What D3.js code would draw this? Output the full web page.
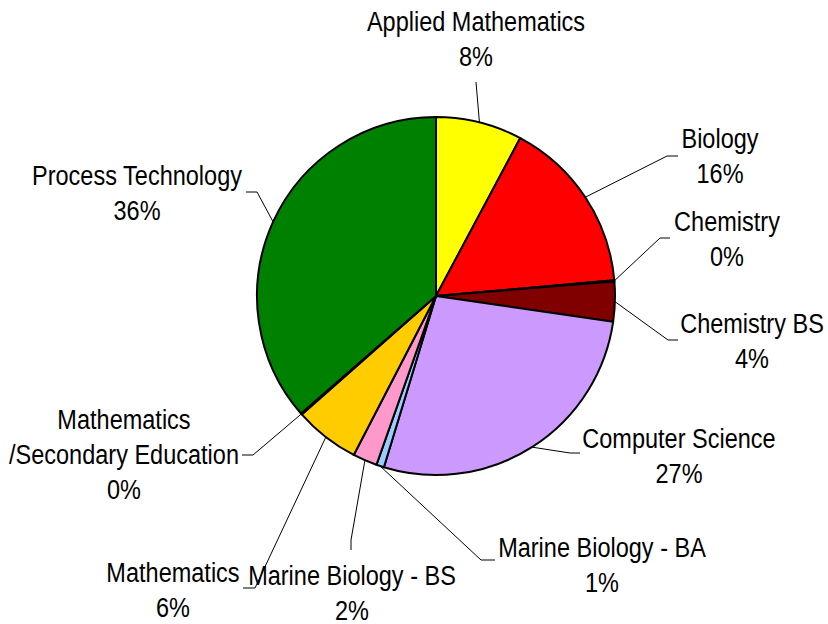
<!DOCTYPE html>
<html><head><meta charset="utf-8">
<script src="https://cdn.jsdelivr.net/npm/d3@7"></script>
<style>html,body{margin:0;padding:0;background:#fff;}svg{display:block;}</style>
</head><body>
<svg id="chart" width="828" height="624"></svg>
<script>
// ---- data ----
const categories = ["Applied Mathematics","Biology","Chemistry","Chemistry BS","Computer Science","Marine Biology - BA","Marine Biology - BS","Mathematics","Mathematics\n/Secondary Education","Process Technology"];
const values = [7.8, 15.8, 0.1, 3.6, 27.4, 0.7, 2.2, 5.9, 0.1, 36.4];
const colors = ["#FFFF00","#FF0000","#800080","#800000","#CC99FF","#99CCFF","#FF99CC","#FFCC00","#3366FF","#008000"];

// ---- layout (label placement, not data) ----
const labelLayout = [
  {x:476, y:31,  elbow:[476,82],  stub:null},
  {x:720, y:148, elbow:[667,156], stub:[678,156]},
  {x:727, y:231, elbow:[660,238], stub:[670,238]},
  {x:752, y:333, elbow:[668,340], stub:[678,340]},
  {x:679, y:448, elbow:[570,453], stub:[580,453]},
  {x:602, y:557, elbow:[481,560], stub:[495,560]},
  {x:352, y:585, elbow:[351,540], stub:[351,550]},
  {x:173, y:582, elbow:[255,588], stub:[243,588]},
  {x:124, y:429, elbow:[253,455], stub:[242,455]},
  {x:137, y:185, elbow:[257,192], stub:[246,192]}
];

const W = 828, H = 624, cx = 436, cy = 296, R = 179;
const svg = d3.select("#chart");
const total = d3.sum(values);
const data = categories.map((c,i)=>({name:c, value:values[i], color:colors[i], lay:labelLayout[i]}));

const pie = d3.pie().value(d=>d.value).sort(null).startAngle(0).endAngle(2*Math.PI);
const arc = d3.arc().innerRadius(0).outerRadius(R);
const arcs = pie(data);

const g = svg.append("g").attr("transform",`translate(${cx},${cy})`);
g.selectAll("path.slice").data(arcs).join("path")
  .attr("class","slice")
  .attr("d",arc)
  .attr("fill",d=>d.data.color)
  .attr("stroke","#000")
  .attr("stroke-width",2)
  .attr("stroke-linejoin","round");

// leader lines
const lines = svg.append("g");
arcs.forEach(a=>{
  const m = (a.startAngle+a.endAngle)/2;
  const px = cx + R*Math.sin(m), py = cy - R*Math.cos(m);
  const L = a.data.lay;
  const pts = [[px,py], L.elbow];
  if (L.stub) pts.push(L.stub);
  lines.append("path")
    .attr("d", d3.line()(pts))
    .attr("fill","none")
    .attr("stroke","#000")
    .attr("stroke-width",1);
});

// labels (Arial Narrow look: Liberation Sans horizontally condensed)
const labels = svg.append("g")
  .attr("font-family","'Liberation Sans',Arial,sans-serif")
  .attr("font-size",28)
  .attr("fill","#000")
  .attr("text-anchor","middle");
arcs.forEach(a=>{
  const L = a.data.lay;
  const parts = a.data.name.split("\n");
  parts.push(Math.round(a.data.value/total*100) + "%");
  const t = labels.append("text")
    .attr("transform",`translate(${L.x},${L.y}) scale(0.84,1)`);
  parts.forEach((p,i)=>{
    t.append("tspan").attr("x",0).attr("y", i*35).text(p);
  });
});
</script>
</body></html>
